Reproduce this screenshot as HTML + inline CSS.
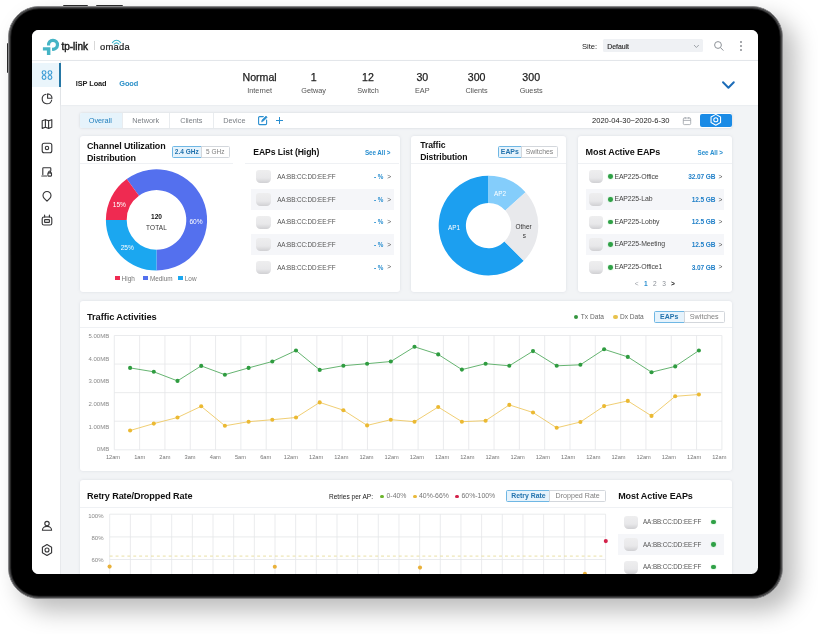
<!DOCTYPE html>
<html><head><meta charset="utf-8"><title>Omada Dashboard</title>
<style>
*{box-sizing:border-box;margin:0;padding:0}
html,body{width:818px;height:634px;background:#fff;overflow:hidden}
body{position:relative;font-family:"Liberation Sans",sans-serif;color:#222}
.tablet{position:absolute;left:7.8px;top:5.8px;width:775.4px;height:593px;background:#000;border-radius:31px;
 border:1.1px solid #88888a;box-shadow:inset 0 0 0 1.2px #4a4a4b, inset 0 0 0 2.2px #1e1e1f, 12px 12px 24px rgba(0,0,0,.27);}
.bump{position:absolute;background:#2a2a2b;border-radius:1px}
.screen{position:absolute;left:32px;top:30px;width:726px;height:543.5px;border-radius:6.5px;overflow:hidden;background:#f2f4f6}
.in{position:absolute;left:-32px;top:-30px;width:818px;height:634px;will-change:transform}
.abs{position:absolute}
.t{position:absolute;white-space:nowrap;line-height:1;margin-top:.6px}
.card{position:absolute;background:#fff;border-radius:3px;box-shadow:0 0 3px rgba(120,130,150,.18)}
.hr{position:absolute;height:1px;background:#eff1f4}
.dev{position:absolute;width:14.4px;height:13px;border-radius:3px 3px 4.5px 4.5px;background:linear-gradient(180deg,#eeeeef 0%,#e8e8ea 62%,#d0d0d3 100%)}
.rowbg{position:absolute;background:#f5f6f9;height:21.6px}
.dot{position:absolute;border-radius:50%}
.btn{position:absolute;font-size:6.5px;line-height:10.5px;text-align:center;border:1px solid #d3d7dc;color:#808080;background:#fff;white-space:nowrap;border-radius:0 1.5px 1.5px 0}
.btn.on{border-color:#6fb7e4;color:#2373ad;background:#e6f3fc;font-weight:bold;border-radius:1.5px 0 0 1.5px}
</style></head><body>
<div class="bump" style="left:62.6px;top:4.8px;width:25.8px;height:3px"></div><div class="bump" style="left:95.6px;top:4.8px;width:27px;height:3px"></div><div class="bump" style="left:6.8px;top:43px;width:3px;height:30px"></div>
<div class="tablet"></div>
<div class="screen"><div class="in">

<div class="abs" style="left:32px;top:30px;width:726px;height:30.5px;background:#fff;border-bottom:1px solid #e9ecef"></div>
<svg class="abs" style="left:40px;top:36px" width="22" height="21" viewBox="40 36 22 21">
<path d="M46.93 45.5 A6.1 6.1 0 1 1 52 50.82 L52 47.52 A2.9 2.9 0 1 0 50.16 45.5 Z" fill="#45b4c5"/>
<path d="M42.9 47.3 H50.4 V54.9 H46.9 V50.6 H42.9 Z" fill="#45b4c5"/>
</svg>
<div class="t" style="left:61.5px;top:41.4px;font-size:10px;color:#1c1c1c;letter-spacing:-0.02px;-webkit-text-stroke:.45px #1c1c1c">tp-link</div>
<div class="abs" style="left:94px;top:41.4px;width:1px;height:9px;background:#d8d8d8"></div>
<div class="t" style="left:99.9px;top:41.5px;font-size:9.4px;color:#1c1c1c;letter-spacing:.28px;-webkit-text-stroke:.2px #1c1c1c">omada</div>
<svg class="abs" style="left:109.9px;top:38.8px" width="13" height="6" viewBox="0 0 13 6" fill="none" stroke="#3fb4c8" stroke-width="1.05" stroke-linecap="round">
<path d="M2.4 3.6 Q6.5 -1 10.6 3.6"/><path d="M4.1 5.2 Q6.5 2.5 8.9 5.2"/></svg>
<div class="t" style="left:582px;top:42.2px;font-size:7.6px;color:#222">Site:</div>
<div class="abs" style="left:602.5px;top:39.3px;width:100.5px;height:13.2px;background:#eff1f4;border-radius:1.5px"></div>
<div class="t" style="left:607.2px;top:43.2px;font-size:6.9px;color:#222;-webkit-text-stroke:.12px #222">Default</div>
<svg class="abs" style="left:692.5px;top:44px" width="7" height="5" viewBox="0 0 7 5" fill="none" stroke="#8a8f96" stroke-width="0.8"><path d="M1 1 L3.4 3.5 L5.8 1"/></svg>
<svg class="abs" style="left:713px;top:40px" width="12" height="12" viewBox="0 0 12 12" fill="none" stroke="#8e9399" stroke-width="1"><circle cx="5" cy="5" r="3.4"/><path d="M7.5 7.6 L10.4 10.6"/></svg>
<div class="dot" style="left:739.6px;top:40.75px;width:2.1px;height:2.1px;background:#8a8d92"></div>
<div class="dot" style="left:739.6px;top:45.050000000000004px;width:2.1px;height:2.1px;background:#8a8d92"></div>
<div class="dot" style="left:739.6px;top:49.35px;width:2.1px;height:2.1px;background:#8a8d92"></div>
<div class="abs" style="left:32px;top:61px;width:29.2px;height:520px;background:#fff;border-right:1px solid #e7e9ec"></div>
<div class="abs" style="left:32px;top:63px;width:27px;height:24px;background:#eaf5fb"></div>
<div class="abs" style="left:58.8px;top:63px;width:2.2px;height:24px;background:#2377a6"></div>
<svg class="abs" style="left:39.7px;top:68.2px" width="14" height="14" viewBox="0 0 14 14" fill="none" stroke="#3a9bd5" stroke-width="1.15" stroke-linecap="round" stroke-linejoin="round"><circle cx="4.05" cy="4.6" r="1.9"/><circle cx="9.95" cy="4.6" r="1.9"/><circle cx="4.05" cy="9.4" r="1.9"/><circle cx="9.95" cy="9.4" r="1.9"/></svg>
<svg class="abs" style="left:39.7px;top:92.3px" width="14" height="14" viewBox="0 0 14 14" fill="none" stroke="#363638" stroke-width="1.12" stroke-linecap="round" stroke-linejoin="round"><path d="M6 2.3 A4.8 4.8 0 1 0 11.7 8"/><path d="M7.6 1.9 A4.5 4.5 0 0 1 12 6.3 H7.6 Z"/></svg>
<svg class="abs" style="left:39.7px;top:116.5px" width="14" height="14" viewBox="0 0 14 14" fill="none" stroke="#363638" stroke-width="1.12" stroke-linecap="round" stroke-linejoin="round"><path d="M2.2 3.8 L5.4 2.7 L8.6 3.8 L11.8 2.7 V10.3 L8.6 11.4 L5.4 10.3 L2.2 11.4 Z"/><path d="M5.4 2.7 V10.3 M8.6 3.8 V11.4"/></svg>
<svg class="abs" style="left:39.7px;top:140.6px" width="14" height="14" viewBox="0 0 14 14" fill="none" stroke="#363638" stroke-width="1.12" stroke-linecap="round" stroke-linejoin="round"><rect x="2.2" y="2.2" width="9.6" height="9.6" rx="2"/><circle cx="7" cy="7" r="1.7"/></svg>
<svg class="abs" style="left:39.7px;top:164.6px" width="14" height="14" viewBox="0 0 14 14" fill="none" stroke="#363638" stroke-width="1.12" stroke-linecap="round" stroke-linejoin="round"><path d="M2.8 9.4 V3.4 a0.6 0.6 0 0 1 .6 -.6 H10.2 a0.6 0.6 0 0 1 .6 .6 V5.6"/><path d="M1.8 11 H6.6"/><rect x="7.9" y="7.9" width="3.6" height="3.2" rx="0.6"/><path d="M8.7 7.9 V7 a1 1 0 0 1 2 0 V7.9"/></svg>
<svg class="abs" style="left:39.7px;top:188.8px" width="14" height="14" viewBox="0 0 14 14" fill="none" stroke="#363638" stroke-width="1.12" stroke-linecap="round" stroke-linejoin="round"><path d="M7 12.2 L4.2 9.3 A4 4 0 1 1 9.8 9.3 Z"/></svg>
<svg class="abs" style="left:39.7px;top:213.2px" width="14" height="14" viewBox="0 0 14 14" fill="none" stroke="#363638" stroke-width="1.12" stroke-linecap="round" stroke-linejoin="round"><rect x="2.2" y="4" width="9.6" height="8" rx="1.8"/><path d="M4.6 2 V4 M9.4 2 V4"/><rect x="4.6" y="6.6" width="4.8" height="2.8" rx="0.4"/></svg>
<svg class="abs" style="left:39.7px;top:519px" width="14" height="14" viewBox="0 0 14 14" fill="none" stroke="#363638" stroke-width="1.12" stroke-linecap="round" stroke-linejoin="round"><circle cx="7" cy="4.6" r="2.2"/><path d="M2.4 11.2 a4.6 3.8 0 0 1 9.2 0 Z"/></svg>
<svg class="abs" style="left:39.7px;top:543.3px" width="14" height="14" viewBox="0 0 14 14" fill="none" stroke="#363638" stroke-width="1.12" stroke-linecap="round" stroke-linejoin="round"><path d="M7 1.6 L11.6 4.3 V9.7 L7 12.4 L2.4 9.7 V4.3 Z"/><circle cx="7" cy="7" r="2"/></svg>
<div class="abs" style="left:60.6px;top:61px;width:700px;height:44.1px;background:#fff;box-shadow:0 0 2px rgba(120,130,150,.15)"></div>
<div class="t" style="left:75.8px;top:79.3px;font-size:7.4px;font-weight:bold;color:#222;letter-spacing:-0.1px">ISP Load</div>
<div class="t" style="left:119.3px;top:79.3px;font-size:7.4px;color:#2a8fc8;font-weight:bold;letter-spacing:-0.1px">Good</div>
<div class="t" style="left:219.60000000000002px;width:80px;text-align:center;top:71.7px;font-size:10.6px;color:#222;-webkit-text-stroke:.25px #222">Normal</div>
<div class="t" style="left:219.60000000000002px;width:80px;text-align:center;top:86.8px;font-size:7.3px;color:#555">Internet</div>
<div class="t" style="left:273.6px;width:80px;text-align:center;top:71.7px;font-size:10.6px;color:#222;-webkit-text-stroke:.25px #222">1</div>
<div class="t" style="left:273.6px;width:80px;text-align:center;top:86.8px;font-size:7.3px;color:#555">Getway</div>
<div class="t" style="left:328px;width:80px;text-align:center;top:71.7px;font-size:10.6px;color:#222;-webkit-text-stroke:.25px #222">12</div>
<div class="t" style="left:328px;width:80px;text-align:center;top:86.8px;font-size:7.3px;color:#555">Switch</div>
<div class="t" style="left:382.3px;width:80px;text-align:center;top:71.7px;font-size:10.6px;color:#222;-webkit-text-stroke:.25px #222">30</div>
<div class="t" style="left:382.3px;width:80px;text-align:center;top:86.8px;font-size:7.3px;color:#555">EAP</div>
<div class="t" style="left:436.6px;width:80px;text-align:center;top:71.7px;font-size:10.6px;color:#222;-webkit-text-stroke:.25px #222">300</div>
<div class="t" style="left:436.6px;width:80px;text-align:center;top:86.8px;font-size:7.3px;color:#555">Clients</div>
<div class="t" style="left:491.20000000000005px;width:80px;text-align:center;top:71.7px;font-size:10.6px;color:#222;-webkit-text-stroke:.25px #222">300</div>
<div class="t" style="left:491.20000000000005px;width:80px;text-align:center;top:86.8px;font-size:7.3px;color:#555">Guests</div>
<svg class="abs" style="left:721px;top:80px" width="15" height="10" viewBox="0 0 15 10" fill="none" stroke="#1c6cb8" stroke-width="1.95" stroke-linecap="round" stroke-linejoin="round"><path d="M2 2.2 L7.4 7.8 L12.8 2.2"/></svg>
<div class="abs" style="left:79.5px;top:113px;width:652.5px;height:14.6px;background:#fff;border-radius:2px;box-shadow:0 0 2.5px rgba(120,130,150,.3)"></div>
<div class="abs" style="left:79.5px;top:113px;width:42px;height:14.6px;background:#e6f3fb;border-radius:2px 0 0 2px"></div>
<div class="t" style="left:70.3px;width:60px;text-align:center;top:116.9px;font-size:7.3px;color:#1f7fbd">Overall</div>
<div class="t" style="left:115.69999999999999px;width:60px;text-align:center;top:116.9px;font-size:7.3px;color:#7c8086">Network</div>
<div class="t" style="left:161.3px;width:60px;text-align:center;top:116.9px;font-size:7.3px;color:#7c8086">Clients</div>
<div class="t" style="left:204.3px;width:60px;text-align:center;top:116.9px;font-size:7.3px;color:#7c8086">Device</div>
<div class="abs" style="left:121.5px;top:113px;width:1px;height:14.6px;background:#e9ecef"></div>
<div class="abs" style="left:169.3px;top:113px;width:1px;height:14.6px;background:#e9ecef"></div>
<div class="abs" style="left:213px;top:113px;width:1px;height:14.6px;background:#e9ecef"></div>
<svg class="abs" style="left:256.5px;top:115px" width="11" height="11" viewBox="0 0 11 11" fill="none" stroke="#2a8fd0" stroke-width="1.1" stroke-linecap="round" stroke-linejoin="round"><path d="M6.3 1.6 H2.6 a1 1 0 0 0 -1 1 V8.6 a1 1 0 0 0 1 1 H8.6 a1 1 0 0 0 1 -1 V5"/><path d="M4.6 6.6 L5 5 L9 1 L10.2 2.2 L6.2 6.2 Z" fill="#2a8fd0" stroke-width="0.6"/></svg>
<svg class="abs" style="left:274.5px;top:116px" width="9" height="9" viewBox="0 0 9 9" fill="none" stroke="#2a8fd0" stroke-width="1"><path d="M4.5 1 V8 M1 4.5 H8"/></svg>
<div class="t" style="left:592px;top:116.9px;font-size:7.55px;color:#222">2020-04-30~2020-6-30</div>
<svg class="abs" style="left:682px;top:116px" width="10" height="10" viewBox="0 0 10 10" fill="none" stroke="#9a9fa6" stroke-width="0.8"><rect x="1.3" y="2" width="7.4" height="6.6" rx="1"/><path d="M1.3 4.4 H8.7 M3.2 1 V2.8 M6.8 1 V2.8"/></svg>
<div class="abs" style="left:700px;top:113.5px;width:32px;height:13.6px;background:#1a8be6;border-radius:2px"></div>
<svg class="abs" style="left:709.2px;top:113.1px" width="13.6" height="13.6" viewBox="0 0 12 12" fill="none" stroke="#fff" stroke-width="0.95" stroke-linejoin="round"><path d="M6 1.2 L10.2 3.6 V8.4 L6 10.8 L1.8 8.4 V3.6 Z"/><circle cx="6" cy="6" r="1.8"/></svg>
<div class="card" style="left:79.5px;top:135.5px;width:320px;height:156.3px"></div>
<div class="t" style="left:87px;top:140.6px;font-size:8.95px;font-weight:bold;color:#111;line-height:11.5px;white-space:normal;width:90px;letter-spacing:-0.1px">Channel Utilization Distribution</div>
<div class="btn on" style="left:172px;top:145.6px;width:29.5px;height:12.4px">2.4 GHz</div>
<div class="btn" style="left:200.5px;top:145.6px;width:29.5px;height:12.4px">5 GHz</div>
<div class="hr" style="left:79.5px;top:163px;width:153px"></div><div class="hr" style="left:245.2px;top:163px;width:154.3px"></div>
<div class="abs" style="left:115px;top:275.8px;width:4.6px;height:4.6px;background:#ef2a51"></div>
<div class="t" style="left:121.6px;top:275px;font-size:6.4px;color:#777">High</div>
<div class="abs" style="left:143.3px;top:275.8px;width:4.6px;height:4.6px;background:#5470ee"></div>
<div class="t" style="left:149.9px;top:275px;font-size:6.4px;color:#777">Medium</div>
<div class="abs" style="left:178.2px;top:275.8px;width:4.6px;height:4.6px;background:#1ba7f0"></div>
<div class="t" style="left:184.79999999999998px;top:275px;font-size:6.4px;color:#777">Low</div>
<div class="t" style="left:253.3px;top:147.7px;font-size:8.65px;font-weight:bold;color:#111;letter-spacing:-0.1px">EAPs List (High)</div>
<div class="t" style="left:365px;top:149.2px;font-size:6.3px;color:#2a8fd0;font-weight:bold;letter-spacing:-0.1px">See All &gt;</div>
<div class="dev" style="left:256.2px;top:170.4px"></div>
<div class="t" style="left:277.2px;top:173.70000000000002px;font-size:6.3px;color:#555;letter-spacing:-0.09px">AA:BB:CC:DD:EE:FF</div>
<div class="t" style="left:374px;top:173.70000000000002px;font-size:6.3px;color:#2a8fd0;font-weight:bold">- %</div>
<div class="t" style="left:387.3px;top:173.5px;font-size:6.6px;color:#555">&gt;</div>
<div class="rowbg" style="left:251px;top:188.7px;width:142.6px"></div>
<div class="dev" style="left:256.2px;top:193.0px"></div>
<div class="t" style="left:277.2px;top:196.3px;font-size:6.3px;color:#555;letter-spacing:-0.09px">AA:BB:CC:DD:EE:FF</div>
<div class="t" style="left:374px;top:196.3px;font-size:6.3px;color:#2a8fd0;font-weight:bold">- %</div>
<div class="t" style="left:387.3px;top:196.1px;font-size:6.6px;color:#555">&gt;</div>
<div class="dev" style="left:256.2px;top:215.6px"></div>
<div class="t" style="left:277.2px;top:218.9px;font-size:6.3px;color:#555;letter-spacing:-0.09px">AA:BB:CC:DD:EE:FF</div>
<div class="t" style="left:374px;top:218.9px;font-size:6.3px;color:#2a8fd0;font-weight:bold">- %</div>
<div class="t" style="left:387.3px;top:218.7px;font-size:6.6px;color:#555">&gt;</div>
<div class="rowbg" style="left:251px;top:233.89999999999998px;width:142.6px"></div>
<div class="dev" style="left:256.2px;top:238.2px"></div>
<div class="t" style="left:277.2px;top:241.5px;font-size:6.3px;color:#555;letter-spacing:-0.09px">AA:BB:CC:DD:EE:FF</div>
<div class="t" style="left:374px;top:241.5px;font-size:6.3px;color:#2a8fd0;font-weight:bold">- %</div>
<div class="t" style="left:387.3px;top:241.29999999999998px;font-size:6.6px;color:#555">&gt;</div>
<div class="dev" style="left:256.2px;top:260.8px"></div>
<div class="t" style="left:277.2px;top:264.1px;font-size:6.3px;color:#555;letter-spacing:-0.09px">AA:BB:CC:DD:EE:FF</div>
<div class="t" style="left:374px;top:264.1px;font-size:6.3px;color:#2a8fd0;font-weight:bold">- %</div>
<div class="t" style="left:387.3px;top:263.90000000000003px;font-size:6.6px;color:#555">&gt;</div>
<div class="card" style="left:411.2px;top:135.5px;width:154.6px;height:156.3px"></div>
<div class="t" style="left:420.2px;top:139.8px;font-size:8.65px;font-weight:bold;color:#111;line-height:11.5px;white-space:normal;width:70px;letter-spacing:-0.1px">Traffic Distribution</div>
<div class="btn on" style="left:497.6px;top:146px;width:24.4px;height:11.6px;line-height:9.8px;font-size:6.9px">EAPs</div>
<div class="btn" style="left:521px;top:146px;width:37px;height:11.6px;line-height:9.8px;font-size:6.9px">Switches</div>
<div class="hr" style="left:411.2px;top:163px;width:154.6px"></div>
<div class="card" style="left:578px;top:135.5px;width:153.8px;height:156.3px"></div>
<div class="t" style="left:585.6px;top:147.5px;font-size:9.0px;font-weight:bold;color:#111;letter-spacing:-0.1px">Most Active EAPs</div>
<div class="t" style="left:697.6px;top:149.2px;font-size:6.3px;color:#2a8fd0;font-weight:bold;letter-spacing:-0.1px">See All &gt;</div>
<div class="hr" style="left:578px;top:163px;width:153.8px"></div>
<div class="dev" style="left:588.9px;top:170.4px"></div>
<div class="dot" style="left:607.9px;top:174.4px;width:4.8px;height:4.8px;background:#2fa046;box-shadow:0 0 1.5px #8fd89c"></div>
<div class="t" style="left:614.4px;top:173.0px;font-size:6.88px;color:#444;letter-spacing:-0.1px">EAP225-Office</div>
<div class="t" style="right:102.60000000000002px;top:173.70000000000002px;font-size:6.55px;color:#1f7fc8;font-weight:bold;letter-spacing:-0.1px">32.07 GB</div>
<div class="t" style="left:718.6px;top:173.5px;font-size:6.6px;color:#555">&gt;</div>
<div class="rowbg" style="left:585.8px;top:188.7px;width:138.6px"></div>
<div class="dev" style="left:588.9px;top:193.0px"></div>
<div class="dot" style="left:607.9px;top:197.0px;width:4.8px;height:4.8px;background:#2fa046;box-shadow:0 0 1.5px #8fd89c"></div>
<div class="t" style="left:614.4px;top:195.6px;font-size:6.88px;color:#444;letter-spacing:-0.1px">EAP225-Lab</div>
<div class="t" style="right:102.60000000000002px;top:196.3px;font-size:6.55px;color:#1f7fc8;font-weight:bold;letter-spacing:-0.1px">12.5 GB</div>
<div class="t" style="left:718.6px;top:196.1px;font-size:6.6px;color:#555">&gt;</div>
<div class="dev" style="left:588.9px;top:215.6px"></div>
<div class="dot" style="left:607.9px;top:219.6px;width:4.8px;height:4.8px;background:#2fa046;box-shadow:0 0 1.5px #8fd89c"></div>
<div class="t" style="left:614.4px;top:218.2px;font-size:6.88px;color:#444;letter-spacing:-0.1px">EAP225-Lobby</div>
<div class="t" style="right:102.60000000000002px;top:218.9px;font-size:6.55px;color:#1f7fc8;font-weight:bold;letter-spacing:-0.1px">12.5 GB</div>
<div class="t" style="left:718.6px;top:218.7px;font-size:6.6px;color:#555">&gt;</div>
<div class="rowbg" style="left:585.8px;top:233.89999999999998px;width:138.6px"></div>
<div class="dev" style="left:588.9px;top:238.2px"></div>
<div class="dot" style="left:607.9px;top:242.2px;width:4.8px;height:4.8px;background:#2fa046;box-shadow:0 0 1.5px #8fd89c"></div>
<div class="t" style="left:614.4px;top:240.79999999999998px;font-size:6.88px;color:#444;letter-spacing:-0.1px">EAP225-Meeting</div>
<div class="t" style="right:102.60000000000002px;top:241.5px;font-size:6.55px;color:#1f7fc8;font-weight:bold;letter-spacing:-0.1px">12.5 GB</div>
<div class="t" style="left:718.6px;top:241.29999999999998px;font-size:6.6px;color:#555">&gt;</div>
<div class="dev" style="left:588.9px;top:260.8px"></div>
<div class="dot" style="left:607.9px;top:264.8px;width:4.8px;height:4.8px;background:#2fa046;box-shadow:0 0 1.5px #8fd89c"></div>
<div class="t" style="left:614.4px;top:263.40000000000003px;font-size:6.88px;color:#444;letter-spacing:-0.1px">EAP225-Office1</div>
<div class="t" style="right:102.60000000000002px;top:264.1px;font-size:6.55px;color:#1f7fc8;font-weight:bold;letter-spacing:-0.1px">3.07 GB</div>
<div class="t" style="left:718.6px;top:263.90000000000003px;font-size:6.6px;color:#555">&gt;</div>
<div class="t" style="left:631.6px;width:10px;text-align:center;top:280.2px;font-size:6.6px;color:#9a9fa6;font-weight:normal">&lt;</div>
<div class="t" style="left:640.8px;width:10px;text-align:center;top:280.2px;font-size:6.6px;color:#2a8fd0;font-weight:bold">1</div>
<div class="t" style="left:649.8px;width:10px;text-align:center;top:280.2px;font-size:6.6px;color:#8a8f96;font-weight:normal">2</div>
<div class="t" style="left:659px;width:10px;text-align:center;top:280.2px;font-size:6.6px;color:#8a8f96;font-weight:normal">3</div>
<div class="t" style="left:668px;width:10px;text-align:center;top:280.2px;font-size:6.6px;color:#222;font-weight:bold">&gt;</div>
<svg class="abs" style="left:0;top:0" width="818" height="634" viewBox="0 0 818 634">
<path d="M126.76,178.96 A50.6,50.6 0 1 1 156.50,270.50 L156.50,249.70 A29.8,29.8 0 1 0 138.98,195.79 Z" fill="#5470ee"/>
<path d="M156.50,270.50 A50.6,50.6 0 0 1 105.90,219.90 L126.70,219.90 A29.8,29.8 0 0 0 156.50,249.70 Z" fill="#1ba7f0"/>
<path d="M105.90,219.90 A50.6,50.6 0 0 1 126.76,178.96 L138.98,195.79 A29.8,29.8 0 0 0 126.70,219.90 Z" fill="#ef2a51"/>
<path d="M523.71,260.81 A49.8,49.8 0 1 1 488.50,175.80 L488.50,203.00 A22.6,22.6 0 1 0 504.48,241.58 Z" fill="#1c9ff0"/>
<path d="M488.50,175.80 A49.8,49.8 0 0 1 525.51,192.28 L505.30,210.48 A22.6,22.6 0 0 0 488.50,203.00 Z" fill="#84cdfb"/>
<path d="M525.51,192.28 A49.8,49.8 0 0 1 523.71,260.81 L504.48,241.58 A22.6,22.6 0 0 0 505.30,210.48 Z" fill="#e8e9ec"/>
</svg>
<div class="t" style="left:109.4px;width:20px;text-align:center;top:201.6px;font-size:6.6px;color:#fff">15%</div>
<div class="t" style="left:186px;width:20px;text-align:center;top:218.5px;font-size:6.6px;color:#fff">60%</div>
<div class="t" style="left:117.3px;width:20px;text-align:center;top:244px;font-size:6.6px;color:#fff">25%</div>
<div class="t" style="left:136.5px;width:40px;text-align:center;top:213.6px;font-size:6.6px;font-weight:bold;color:#111">120</div>
<div class="t" style="left:136.5px;width:40px;text-align:center;top:224.3px;font-size:6.4px;color:#333;letter-spacing:0.2px">TOTAL</div>
<div class="t" style="left:444px;width:20px;text-align:center;top:224.4px;font-size:6.4px;color:#fff">AP1</div>
<div class="t" style="left:490px;width:20px;text-align:center;top:190.6px;font-size:6.4px;color:#fff">AP2</div>
<div class="t" style="left:513.6px;width:20px;text-align:center;top:223.8px;font-size:6.4px;color:#333">Other</div>
<div class="t" style="left:514.4px;width:20px;text-align:center;top:232.2px;font-size:6.4px;color:#333">s</div>
<div class="card" style="left:79.5px;top:300.6px;width:652.5px;height:170px"></div>
<div class="t" style="left:87px;top:312.2px;font-size:9.3px;font-weight:bold;color:#111;letter-spacing:-0.1px">Traffic Activities</div>
<div class="hr" style="left:79.5px;top:327px;width:652.5px"></div>
<div class="dot" style="left:573.7px;top:314.8px;width:4.2px;height:4.2px;background:#35953f"></div>
<div class="t" style="left:580.8px;top:313.3px;font-size:6.6px;color:#666">Tx Data</div>
<div class="dot" style="left:613.4px;top:314.8px;width:4.2px;height:4.2px;background:#e8c24c"></div>
<div class="t" style="left:619.9px;top:313.3px;font-size:6.6px;color:#666">Dx Data</div>
<div class="btn on" style="left:653.7px;top:310.5px;width:31px;height:12.3px;line-height:10.4px;font-size:7px">EAPs</div>
<div class="btn" style="left:683.7px;top:310.5px;width:41px;height:12.3px;line-height:10.4px;font-size:7.2px">Switches</div>
<svg class="abs" style="left:0;top:0" width="818" height="634" viewBox="0 0 818 634">
<line x1="114.30" y1="335.5" x2="114.30" y2="449.8" stroke="#e4e6e9" stroke-width="0.8"/>
<line x1="139.62" y1="335.5" x2="139.62" y2="449.8" stroke="#e4e6e9" stroke-width="0.8"/>
<line x1="164.93" y1="335.5" x2="164.93" y2="449.8" stroke="#e4e6e9" stroke-width="0.8"/>
<line x1="190.25" y1="335.5" x2="190.25" y2="449.8" stroke="#e4e6e9" stroke-width="0.8"/>
<line x1="215.57" y1="335.5" x2="215.57" y2="449.8" stroke="#e4e6e9" stroke-width="0.8"/>
<line x1="240.88" y1="335.5" x2="240.88" y2="449.8" stroke="#e4e6e9" stroke-width="0.8"/>
<line x1="266.20" y1="335.5" x2="266.20" y2="449.8" stroke="#e4e6e9" stroke-width="0.8"/>
<line x1="291.52" y1="335.5" x2="291.52" y2="449.8" stroke="#e4e6e9" stroke-width="0.8"/>
<line x1="316.83" y1="335.5" x2="316.83" y2="449.8" stroke="#e4e6e9" stroke-width="0.8"/>
<line x1="342.15" y1="335.5" x2="342.15" y2="449.8" stroke="#e4e6e9" stroke-width="0.8"/>
<line x1="367.47" y1="335.5" x2="367.47" y2="449.8" stroke="#e4e6e9" stroke-width="0.8"/>
<line x1="392.78" y1="335.5" x2="392.78" y2="449.8" stroke="#e4e6e9" stroke-width="0.8"/>
<line x1="418.10" y1="335.5" x2="418.10" y2="449.8" stroke="#e4e6e9" stroke-width="0.8"/>
<line x1="443.42" y1="335.5" x2="443.42" y2="449.8" stroke="#e4e6e9" stroke-width="0.8"/>
<line x1="468.73" y1="335.5" x2="468.73" y2="449.8" stroke="#e4e6e9" stroke-width="0.8"/>
<line x1="494.05" y1="335.5" x2="494.05" y2="449.8" stroke="#e4e6e9" stroke-width="0.8"/>
<line x1="519.37" y1="335.5" x2="519.37" y2="449.8" stroke="#e4e6e9" stroke-width="0.8"/>
<line x1="544.68" y1="335.5" x2="544.68" y2="449.8" stroke="#e4e6e9" stroke-width="0.8"/>
<line x1="570.00" y1="335.5" x2="570.00" y2="449.8" stroke="#e4e6e9" stroke-width="0.8"/>
<line x1="595.32" y1="335.5" x2="595.32" y2="449.8" stroke="#e4e6e9" stroke-width="0.8"/>
<line x1="620.63" y1="335.5" x2="620.63" y2="449.8" stroke="#e4e6e9" stroke-width="0.8"/>
<line x1="645.95" y1="335.5" x2="645.95" y2="449.8" stroke="#e4e6e9" stroke-width="0.8"/>
<line x1="671.27" y1="335.5" x2="671.27" y2="449.8" stroke="#e4e6e9" stroke-width="0.8"/>
<line x1="696.58" y1="335.5" x2="696.58" y2="449.8" stroke="#e4e6e9" stroke-width="0.8"/>
<line x1="721.90" y1="335.5" x2="721.90" y2="449.8" stroke="#e4e6e9" stroke-width="0.8"/>
<line x1="114.3" y1="335.50" x2="721.9" y2="335.50" stroke="#e4e6e9" stroke-width="0.8"/>
<line x1="114.3" y1="364.07" x2="721.9" y2="364.07" stroke="#e4e6e9" stroke-width="0.8"/>
<line x1="114.3" y1="392.65" x2="721.9" y2="392.65" stroke="#e4e6e9" stroke-width="0.8"/>
<line x1="114.3" y1="421.23" x2="721.9" y2="421.23" stroke="#e4e6e9" stroke-width="0.8"/>
<line x1="114.3" y1="449.80" x2="721.9" y2="449.80" stroke="#e4e6e9" stroke-width="0.8"/>
<polyline points="130.1,367.9 153.8,371.8 177.5,380.9 201.2,365.9 224.9,374.7 248.6,367.9 272.3,361.5 296.0,350.5 319.7,369.9 343.4,365.7 367.1,363.7 390.8,361.5 414.5,346.8 438.2,354.4 461.9,369.6 485.6,363.7 509.3,365.8 533.0,351.1 556.7,365.8 580.4,364.8 604.1,349.3 627.8,356.9 651.5,372.2 675.2,366.4 698.9,350.5" fill="none" stroke="#4aa657" stroke-width="0.85"/>
<circle cx="130.1" cy="367.9" r="2.05" fill="#2f9c40"/>
<circle cx="153.8" cy="371.8" r="2.05" fill="#2f9c40"/>
<circle cx="177.5" cy="380.9" r="2.05" fill="#2f9c40"/>
<circle cx="201.2" cy="365.9" r="2.05" fill="#2f9c40"/>
<circle cx="224.9" cy="374.7" r="2.05" fill="#2f9c40"/>
<circle cx="248.6" cy="367.9" r="2.05" fill="#2f9c40"/>
<circle cx="272.3" cy="361.5" r="2.05" fill="#2f9c40"/>
<circle cx="296.0" cy="350.5" r="2.05" fill="#2f9c40"/>
<circle cx="319.7" cy="369.9" r="2.05" fill="#2f9c40"/>
<circle cx="343.4" cy="365.7" r="2.05" fill="#2f9c40"/>
<circle cx="367.1" cy="363.7" r="2.05" fill="#2f9c40"/>
<circle cx="390.8" cy="361.5" r="2.05" fill="#2f9c40"/>
<circle cx="414.5" cy="346.8" r="2.05" fill="#2f9c40"/>
<circle cx="438.2" cy="354.4" r="2.05" fill="#2f9c40"/>
<circle cx="461.9" cy="369.6" r="2.05" fill="#2f9c40"/>
<circle cx="485.6" cy="363.7" r="2.05" fill="#2f9c40"/>
<circle cx="509.3" cy="365.8" r="2.05" fill="#2f9c40"/>
<circle cx="533.0" cy="351.1" r="2.05" fill="#2f9c40"/>
<circle cx="556.7" cy="365.8" r="2.05" fill="#2f9c40"/>
<circle cx="580.4" cy="364.8" r="2.05" fill="#2f9c40"/>
<circle cx="604.1" cy="349.3" r="2.05" fill="#2f9c40"/>
<circle cx="627.8" cy="356.9" r="2.05" fill="#2f9c40"/>
<circle cx="651.5" cy="372.2" r="2.05" fill="#2f9c40"/>
<circle cx="675.2" cy="366.4" r="2.05" fill="#2f9c40"/>
<circle cx="698.9" cy="350.5" r="2.05" fill="#2f9c40"/>
<polyline points="130.1,430.5 153.8,423.6 177.5,417.5 201.2,406.3 224.9,425.8 248.6,421.7 272.3,419.7 296.0,417.5 319.7,402.4 343.4,410.2 367.1,425.4 390.8,419.7 414.5,421.7 438.2,407 461.9,421.7 485.6,420.7 509.3,404.9 533.0,412.5 556.7,427.8 580.4,422 604.1,406.1 627.8,400.9 651.5,415.9 675.2,396.3 698.9,394.5" fill="none" stroke="#edc55a" stroke-width="0.85"/>
<circle cx="130.1" cy="430.5" r="2.05" fill="#ebb932"/>
<circle cx="153.8" cy="423.6" r="2.05" fill="#ebb932"/>
<circle cx="177.5" cy="417.5" r="2.05" fill="#ebb932"/>
<circle cx="201.2" cy="406.3" r="2.05" fill="#ebb932"/>
<circle cx="224.9" cy="425.8" r="2.05" fill="#ebb932"/>
<circle cx="248.6" cy="421.7" r="2.05" fill="#ebb932"/>
<circle cx="272.3" cy="419.7" r="2.05" fill="#ebb932"/>
<circle cx="296.0" cy="417.5" r="2.05" fill="#ebb932"/>
<circle cx="319.7" cy="402.4" r="2.05" fill="#ebb932"/>
<circle cx="343.4" cy="410.2" r="2.05" fill="#ebb932"/>
<circle cx="367.1" cy="425.4" r="2.05" fill="#ebb932"/>
<circle cx="390.8" cy="419.7" r="2.05" fill="#ebb932"/>
<circle cx="414.5" cy="421.7" r="2.05" fill="#ebb932"/>
<circle cx="438.2" cy="407" r="2.05" fill="#ebb932"/>
<circle cx="461.9" cy="421.7" r="2.05" fill="#ebb932"/>
<circle cx="485.6" cy="420.7" r="2.05" fill="#ebb932"/>
<circle cx="509.3" cy="404.9" r="2.05" fill="#ebb932"/>
<circle cx="533.0" cy="412.5" r="2.05" fill="#ebb932"/>
<circle cx="556.7" cy="427.8" r="2.05" fill="#ebb932"/>
<circle cx="580.4" cy="422" r="2.05" fill="#ebb932"/>
<circle cx="604.1" cy="406.1" r="2.05" fill="#ebb932"/>
<circle cx="627.8" cy="400.9" r="2.05" fill="#ebb932"/>
<circle cx="651.5" cy="415.9" r="2.05" fill="#ebb932"/>
<circle cx="675.2" cy="396.3" r="2.05" fill="#ebb932"/>
<circle cx="698.9" cy="394.5" r="2.05" fill="#ebb932"/>
</svg>
<div class="t" style="right:708.8px;top:332.40000000000003px;font-size:6.0px;color:#888">5.00MB</div>
<div class="t" style="right:708.8px;top:355.1px;font-size:6.0px;color:#888">4.00MB</div>
<div class="t" style="right:708.8px;top:377.8px;font-size:6.0px;color:#888">3.00MB</div>
<div class="t" style="right:708.8px;top:400.5px;font-size:6.0px;color:#888">2.00MB</div>
<div class="t" style="right:708.8px;top:423.20000000000005px;font-size:6.0px;color:#888">1.00MB</div>
<div class="t" style="right:708.8px;top:445.90000000000003px;font-size:6.0px;color:#888">0MB</div>
<div class="t" style="left:98.0px;width:30px;text-align:center;top:454.9px;font-size:5.7px;color:#777">12am</div>
<div class="t" style="left:124.69999999999999px;width:30px;text-align:center;top:454.9px;font-size:5.7px;color:#777">1am</div>
<div class="t" style="left:149.89999999999998px;width:30px;text-align:center;top:454.9px;font-size:5.7px;color:#777">2am</div>
<div class="t" style="left:175.1px;width:30px;text-align:center;top:454.9px;font-size:5.7px;color:#777">3am</div>
<div class="t" style="left:200.29999999999998px;width:30px;text-align:center;top:454.9px;font-size:5.7px;color:#777">4am</div>
<div class="t" style="left:225.5px;width:30px;text-align:center;top:454.9px;font-size:5.7px;color:#777">5am</div>
<div class="t" style="left:250.7px;width:30px;text-align:center;top:454.9px;font-size:5.7px;color:#777">6am</div>
<div class="t" style="left:275.9px;width:30px;text-align:center;top:454.9px;font-size:5.7px;color:#777">12am</div>
<div class="t" style="left:301.1px;width:30px;text-align:center;top:454.9px;font-size:5.7px;color:#777">12am</div>
<div class="t" style="left:326.29999999999995px;width:30px;text-align:center;top:454.9px;font-size:5.7px;color:#777">12am</div>
<div class="t" style="left:351.5px;width:30px;text-align:center;top:454.9px;font-size:5.7px;color:#777">12am</div>
<div class="t" style="left:376.7px;width:30px;text-align:center;top:454.9px;font-size:5.7px;color:#777">12am</div>
<div class="t" style="left:401.9px;width:30px;text-align:center;top:454.9px;font-size:5.7px;color:#777">12am</div>
<div class="t" style="left:427.09999999999997px;width:30px;text-align:center;top:454.9px;font-size:5.7px;color:#777">12am</div>
<div class="t" style="left:452.29999999999995px;width:30px;text-align:center;top:454.9px;font-size:5.7px;color:#777">12am</div>
<div class="t" style="left:477.5px;width:30px;text-align:center;top:454.9px;font-size:5.7px;color:#777">12am</div>
<div class="t" style="left:502.70000000000005px;width:30px;text-align:center;top:454.9px;font-size:5.7px;color:#777">12am</div>
<div class="t" style="left:527.9px;width:30px;text-align:center;top:454.9px;font-size:5.7px;color:#777">12am</div>
<div class="t" style="left:553.0999999999999px;width:30px;text-align:center;top:454.9px;font-size:5.7px;color:#777">12am</div>
<div class="t" style="left:578.3px;width:30px;text-align:center;top:454.9px;font-size:5.7px;color:#777">12am</div>
<div class="t" style="left:603.5px;width:30px;text-align:center;top:454.9px;font-size:5.7px;color:#777">12am</div>
<div class="t" style="left:628.7px;width:30px;text-align:center;top:454.9px;font-size:5.7px;color:#777">12am</div>
<div class="t" style="left:653.8999999999999px;width:30px;text-align:center;top:454.9px;font-size:5.7px;color:#777">12am</div>
<div class="t" style="left:679.0999999999999px;width:30px;text-align:center;top:454.9px;font-size:5.7px;color:#777">12am</div>
<div class="t" style="left:704.3px;width:30px;text-align:center;top:454.9px;font-size:5.7px;color:#777">12am</div>
<div class="card" style="left:79.5px;top:480.4px;width:652.5px;height:120px"></div>
<div class="t" style="left:87px;top:491.6px;font-size:9.1px;font-weight:bold;color:#111;letter-spacing:-0.1px">Retry Rate/Dropped Rate</div>
<div class="hr" style="left:79.5px;top:507px;width:652.5px"></div>
<div class="t" style="left:329px;top:493.2px;font-size:6.55px;color:#222">Retries per AP:</div>
<div class="dot" style="left:380.40000000000003px;top:494.5px;width:3.8px;height:3.8px;background:#6cb52d"></div>
<div class="t" style="left:386.5px;top:492.7px;font-size:6.9px;color:#777">0-40%</div>
<div class="dot" style="left:412.90000000000003px;top:494.5px;width:3.8px;height:3.8px;background:#e9b93a"></div>
<div class="t" style="left:419.0px;top:492.7px;font-size:6.9px;color:#777">40%-66%</div>
<div class="dot" style="left:455.40000000000003px;top:494.5px;width:3.8px;height:3.8px;background:#d3224a"></div>
<div class="t" style="left:461.5px;top:492.7px;font-size:6.9px;color:#777">60%-100%</div>
<div class="btn on" style="left:506.4px;top:490.1px;width:44px;height:12.2px;line-height:10.3px;font-size:6.9px">Retry Rate</div>
<div class="btn" style="left:549.4px;top:490.1px;width:56.6px;height:12.2px;line-height:10.3px;font-size:7.1px">Dropped Rate</div>
<svg class="abs" style="left:0;top:0" width="818" height="634" viewBox="0 0 818 634">
<line x1="109.70" y1="514.2" x2="109.70" y2="580" stroke="#e4e6e9" stroke-width="0.8"/>
<line x1="130.36" y1="514.2" x2="130.36" y2="580" stroke="#e4e6e9" stroke-width="0.8"/>
<line x1="151.03" y1="514.2" x2="151.03" y2="580" stroke="#e4e6e9" stroke-width="0.8"/>
<line x1="171.69" y1="514.2" x2="171.69" y2="580" stroke="#e4e6e9" stroke-width="0.8"/>
<line x1="192.35" y1="514.2" x2="192.35" y2="580" stroke="#e4e6e9" stroke-width="0.8"/>
<line x1="213.01" y1="514.2" x2="213.01" y2="580" stroke="#e4e6e9" stroke-width="0.8"/>
<line x1="233.68" y1="514.2" x2="233.68" y2="580" stroke="#e4e6e9" stroke-width="0.8"/>
<line x1="254.34" y1="514.2" x2="254.34" y2="580" stroke="#e4e6e9" stroke-width="0.8"/>
<line x1="275.00" y1="514.2" x2="275.00" y2="580" stroke="#e4e6e9" stroke-width="0.8"/>
<line x1="295.66" y1="514.2" x2="295.66" y2="580" stroke="#e4e6e9" stroke-width="0.8"/>
<line x1="316.32" y1="514.2" x2="316.32" y2="580" stroke="#e4e6e9" stroke-width="0.8"/>
<line x1="336.99" y1="514.2" x2="336.99" y2="580" stroke="#e4e6e9" stroke-width="0.8"/>
<line x1="357.65" y1="514.2" x2="357.65" y2="580" stroke="#e4e6e9" stroke-width="0.8"/>
<line x1="378.31" y1="514.2" x2="378.31" y2="580" stroke="#e4e6e9" stroke-width="0.8"/>
<line x1="398.98" y1="514.2" x2="398.98" y2="580" stroke="#e4e6e9" stroke-width="0.8"/>
<line x1="419.64" y1="514.2" x2="419.64" y2="580" stroke="#e4e6e9" stroke-width="0.8"/>
<line x1="440.30" y1="514.2" x2="440.30" y2="580" stroke="#e4e6e9" stroke-width="0.8"/>
<line x1="460.96" y1="514.2" x2="460.96" y2="580" stroke="#e4e6e9" stroke-width="0.8"/>
<line x1="481.62" y1="514.2" x2="481.62" y2="580" stroke="#e4e6e9" stroke-width="0.8"/>
<line x1="502.29" y1="514.2" x2="502.29" y2="580" stroke="#e4e6e9" stroke-width="0.8"/>
<line x1="522.95" y1="514.2" x2="522.95" y2="580" stroke="#e4e6e9" stroke-width="0.8"/>
<line x1="543.61" y1="514.2" x2="543.61" y2="580" stroke="#e4e6e9" stroke-width="0.8"/>
<line x1="564.28" y1="514.2" x2="564.28" y2="580" stroke="#e4e6e9" stroke-width="0.8"/>
<line x1="584.94" y1="514.2" x2="584.94" y2="580" stroke="#e4e6e9" stroke-width="0.8"/>
<line x1="605.60" y1="514.2" x2="605.60" y2="580" stroke="#e4e6e9" stroke-width="0.8"/>
<line x1="109.7" y1="514.2" x2="605.6" y2="514.2" stroke="#e4e6e9" stroke-width="0.8"/>
<line x1="109.7" y1="536.9" x2="605.6" y2="536.9" stroke="#e4e6e9" stroke-width="0.8"/>
<line x1="109.7" y1="559.5" x2="605.6" y2="559.5" stroke="#e4e6e9" stroke-width="0.8"/>
<line x1="109.7" y1="556.1" x2="603" y2="556.1" stroke="#e6dc9a" stroke-width="0.9" stroke-dasharray="2.9 3"/>
<circle cx="109.6" cy="566.6" r="2.05" fill="#e9b13a"/>
<circle cx="274.8" cy="566.8" r="2.05" fill="#e9b13a"/>
<circle cx="420" cy="567.6" r="2.05" fill="#e9b13a"/>
<circle cx="584.9" cy="573.7" r="2.05" fill="#e9b13a"/>
<circle cx="605.8" cy="541.1" r="2.05" fill="#d3224a"/>
</svg>
<div class="t" style="right:714.5px;top:512.3px;font-size:6.0px;color:#888">100%</div>
<div class="t" style="right:714.5px;top:534.3px;font-size:6.0px;color:#888">80%</div>
<div class="t" style="right:714.5px;top:556.9px;font-size:6.0px;color:#888">60%</div>
<div class="t" style="left:618.2px;top:491.9px;font-size:9.0px;font-weight:bold;color:#111;letter-spacing:-0.1px">Most Active EAPs</div>
<div class="dev" style="left:623.8px;top:515.6px"></div>
<div class="t" style="left:643px;top:518.8px;font-size:6.3px;color:#555;letter-spacing:-0.09px">AA:BB:CC:DD:EE:FF</div>
<div class="dot" style="left:711.4px;top:519.6px;width:4.8px;height:4.8px;background:#2fa046;box-shadow:0 0 1.5px #8fd89c"></div>
<div class="rowbg" style="left:618.2px;top:533.6px;width:105.4px"></div>
<div class="dev" style="left:623.8px;top:538.0px"></div>
<div class="t" style="left:643px;top:541.1999999999999px;font-size:6.3px;color:#555;letter-spacing:-0.09px">AA:BB:CC:DD:EE:FF</div>
<div class="dot" style="left:711.4px;top:542.0px;width:4.8px;height:4.8px;background:#2fa046;box-shadow:0 0 1.5px #8fd89c"></div>
<div class="dev" style="left:623.8px;top:560.7px"></div>
<div class="t" style="left:643px;top:563.9px;font-size:6.3px;color:#555;letter-spacing:-0.09px">AA:BB:CC:DD:EE:FF</div>
<div class="dot" style="left:711.4px;top:564.7px;width:4.8px;height:4.8px;background:#2fa046;box-shadow:0 0 1.5px #8fd89c"></div>
</div></div>
</body></html>
